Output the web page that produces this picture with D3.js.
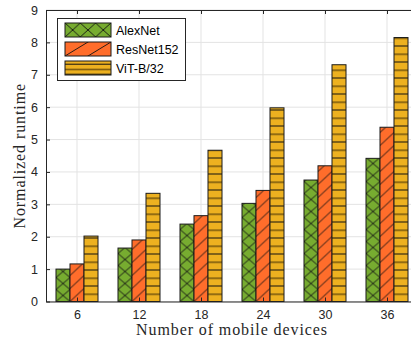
<!DOCTYPE html>
<html>
<head>
<meta charset="utf-8">
<script src="https://cdn.jsdelivr.net/npm/d3@7"></script>
<style>
  html, body { margin: 0; padding: 0; background: #fff; overflow: hidden; }
  svg { display: block; }
</style>
</head>
<body>
<script>
// Runtime normalized to AlexNet at 6 devices
const devices = [6, 12, 18, 24, 30, 36];
const seriesNames = ["AlexNet", "ResNet152", "ViT-B/32"];
const alexnet   = [1.00, 1.65, 2.39, 3.03, 3.75, 4.42];
const resnet152 = [1.16, 1.90, 2.65, 3.43, 4.19, 5.38];
const vitb32    = [2.02, 3.34, 4.67, 5.98, 7.31, 8.15];
const yTicks = [0, 1, 2, 3, 4, 5, 6, 7, 8, 9];

const seriesValues = [alexnet, resnet152, vitb32];
const fills = ["#77ac30", "#ff6d2b", "#edb120"];
const hatch = ["cross", "diag", "horiz"];

const W = 411, H = 339;
const m = { left: 46, top: 10, right: 418, bottom: 301.5 };

const svg = d3.select("body").append("svg").attr("width", W).attr("height", H);
const defs = svg.append("defs");

const x = d3.scaleLinear().domain([3, 39]).range([m.left, m.right]);
const y = d3.scaleLinear().domain([0, 9]).range([m.bottom, m.top]);
const barW = x(6 + 1.355) - x(6);

// hatch pattern anchored at (x0, y0); w is the horizontal repeat, ph the vertical repeat
function makePattern(id, kind, x0, y0, w, ph, fill) {
  const p = defs.append("pattern").attr("id", id)
    .attr("patternUnits", "userSpaceOnUse")
    .attr("x", x0).attr("y", y0).attr("width", w).attr("height", ph);
  p.append("rect").attr("width", w).attr("height", ph).attr("fill", fill);
  if (kind === "cross") {
    p.append("path").attr("d", `M0,0L${w},${ph}M0,${ph}L${w},0`)
      .attr("stroke", "#111").attr("stroke-width", 0.9).attr("fill", "none");
  } else if (kind === "diag") {
    p.append("path").attr("d", `M0,${ph}L${w},0M${-w},${ph}L${w},${-ph}M0,${2 * ph}L${2 * w},0`)
      .attr("stroke", "#111").attr("stroke-width", 0.9).attr("fill", "none");
  } else {
    p.append("rect").attr("y", 0).attr("width", w).attr("height", 1).attr("fill", "#111");
    p.append("rect").attr("y", ph / 2).attr("width", w).attr("height", 1.4).attr("fill", "#6b4e0c");
  }
  return `url(#${id})`;
}
const barRepeat = { cross: 12, diag: 13, horiz: 16 };

// grid
const grid = svg.append("g");
grid.selectAll("line.h").data(yTicks).join("line")
  .attr("x1", m.left).attr("x2", m.right)
  .attr("y1", d => y(d)).attr("y2", d => y(d))
  .attr("stroke", "#e3e3e3").attr("stroke-width", 1);
grid.selectAll("line.v").data(devices).join("line")
  .attr("y1", m.top).attr("y2", m.bottom)
  .attr("x1", d => x(d)).attr("x2", d => x(d))
  .attr("stroke", "#e3e3e3").attr("stroke-width", 1);

// bars
seriesValues.forEach((vals, si) => {
  const g = svg.append("g");
  vals.forEach((v, i) => {
    const bx = x(devices[i]) + (si - 1.5) * barW;
    const fill = makePattern(`p${si}_${i}`, hatch[si], bx, m.bottom, barW, barRepeat[hatch[si]], fills[si]);
    g.append("rect")
      .attr("x", bx).attr("y", y(v))
      .attr("width", barW).attr("height", y(0) - y(v))
      .attr("fill", fill)
      .attr("stroke", "#1a1a1a").attr("stroke-width", 1);
  });
});

// axes
const axisColor = "#262626";
const tickFont = "'Liberation Sans', Arial, Helvetica, sans-serif";

const xAxis = d3.axisBottom(x).tickValues(devices).tickSize(-4).tickPadding(9).tickSizeOuter(0);
const gx = svg.append("g").attr("transform", `translate(0,${m.bottom})`).call(xAxis);
const xAxisTop = d3.axisTop(x).tickValues(devices).tickSize(-4).tickFormat("").tickSizeOuter(0);
const gxt = svg.append("g").attr("transform", `translate(0,${m.top})`).call(xAxisTop);
const yAxis = d3.axisLeft(y).tickValues(yTicks).tickSize(-4).tickPadding(8).tickSizeOuter(0);
const gy = svg.append("g").attr("transform", `translate(${m.left},0)`).call(yAxis);

[gx, gxt, gy].forEach(g => {
  g.select(".domain").attr("stroke", axisColor).attr("stroke-width", 1);
  g.selectAll(".tick line").attr("stroke", axisColor);
  g.selectAll(".tick text").attr("fill", axisColor)
    .style("font-family", tickFont).style("font-size", "12.5px");
});

// axis labels
const serif = "'Liberation Serif', 'Times New Roman', 'DejaVu Serif', serif";
svg.append("text")
  .attr("x", (m.left + m.right) / 2).attr("y", 335)
  .attr("text-anchor", "middle")
  .style("font-family", serif).style("font-size", "16px").style("letter-spacing", "0.9px")
  .attr("fill", "#262626")
  .text("Number of mobile devices");
svg.append("text")
  .attr("transform", `translate(25,${(m.top + m.bottom) / 2}) rotate(-90)`)
  .attr("text-anchor", "middle")
  .style("font-family", serif).style("font-size", "16px").style("letter-spacing", "0.9px")
  .attr("fill", "#262626")
  .text("Normalized runtime");

// legend
const lg = svg.append("g");
lg.append("rect")
  .attr("x", 57.5).attr("y", 18.5).attr("width", 128).attr("height", 62)
  .attr("fill", "#fff").attr("stroke", "#262626").attr("stroke-width", 1);
const legRepeat = { cross: [15.3, 14], diag: [23, 14], horiz: [46, 5] };
seriesNames.forEach((name, si) => {
  const ly = 23 + si * 19;
  const [rw, rh] = legRepeat[hatch[si]];
  const oy = hatch[si] === "horiz" ? ly + 2.7 : ly;
  const fill = makePattern(`leg${si}`, hatch[si], 65, oy, rw, rh * (hatch[si] === "horiz" ? 2 : 1), fills[si]);
  lg.append("rect")
    .attr("x", 65).attr("y", ly).attr("width", 46).attr("height", 14)
    .attr("fill", fill).attr("stroke", "#1a1a1a").attr("stroke-width", 1);
  lg.append("text")
    .attr("x", 116).attr("y", ly + 11.5)
    .style("font-family", tickFont).style("font-size", "12.5px").attr("fill", "#000")
    .text(name);
});
</script>
</body>
</html>
